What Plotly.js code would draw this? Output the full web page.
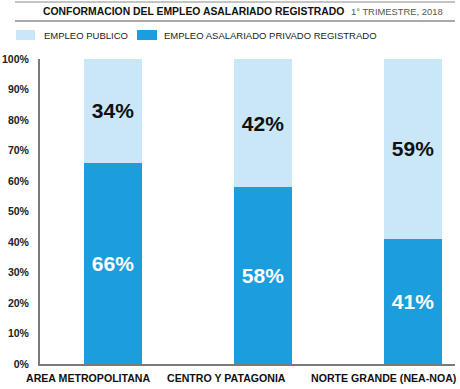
<!DOCTYPE html>
<html><head><meta charset="utf-8">
<script src="https://cdn.plot.ly/plotly-3.0.1.min.js"></script>
<style>html,body{margin:0;padding:0;background:#fff}#chart{width:460px;height:389px}</style>
</head><body><div id="chart"></div>
<script>
const categories = ["AREA METROPOLITANA", "CENTRO Y PATAGONIA", "NORTE GRANDE (NEA-NOA)"];
const privado = [66, 58, 41];
const publico = [34, 42, 59];
const seriesNames = ["EMPLEO ASALARIADO PRIVADO REGISTRADO", "EMPLEO PUBLICO"];
const tickVals = [0,10,20,30,40,50,60,70,80,90,100];
const tickText = tickVals.map(v => v + "%");
const labelShift = [-25, -37, -30];

const W = 460, H = 389, L = 40, R = 5, T = 59, B = 25;
const pw = W - L - R, ph = H - T - B;
const px = x => (x - L) / pw;
const py = y => (H - B - y) / ph;

const darkBlue = "#1c9ddd", lightBlue = "#c9e7f6";
const narrow = "Liberation Sans Narrow, Arial Narrow, Liberation Sans, sans-serif";
const sans = "Liberation Sans, Arial, sans-serif";

const traces = [
  {type:"bar", name:seriesNames[0], x:categories, y:privado, width:0.387,
   marker:{color:darkBlue}, text:privado.map(v=>v+"%"), textposition:"inside",
   insidetextanchor:"middle", textangle:0,
   textfont:{family:narrow, size:21, color:"#ffffff", weight:"bold"}, hoverinfo:"skip"},
  {type:"bar", name:seriesNames[1], x:categories, y:publico, width:0.387,
   marker:{color:lightBlue}, text:publico.map(v=>v+"%"), textposition:"inside",
   insidetextanchor:"middle", textangle:0,
   textfont:{family:narrow, size:21, color:"#111111", weight:"bold"}, hoverinfo:"skip"}
];

const catAnn = categories.map((c, i) => ({
  xref:"x", yref:"paper", x:c, y:py(378), xshift:labelShift[i], xanchor:"center", yanchor:"middle",
  showarrow:false, text:"<b>" + c + "</b>", font:{family:sans, size:10.6, color:"#111"}
}));

const layout = {
  width:W, height:H, margin:{l:L, r:R, t:T, b:B},
  barmode:"stack", showlegend:false,
  paper_bgcolor:"#fff", plot_bgcolor:"#fff",
  xaxis:{type:"category", range:[-0.487, 2.28], showgrid:false, zeroline:false,
    showline:true, linecolor:"#7a7a7a", linewidth:2, ticks:"", showticklabels:false},
  yaxis:{range:[0,100], tickvals:tickVals, ticktext:tickText, showgrid:false, zeroline:false,
    showline:true, linecolor:"#7a7a7a", linewidth:2, ticks:"outside", ticklen:7,
    tickcolor:"rgba(0,0,0,0)", tickfont:{family:narrow, size:10.5, color:"#222", weight:"bold"}},
  shapes:[
    {type:"line", xref:"paper", yref:"paper", x0:px(15), x1:px(455), y0:py(2), y1:py(2), line:{color:"#b0b0b0", width:1.5}},
    {type:"line", xref:"paper", yref:"paper", x0:px(15), x1:px(455), y0:py(21), y1:py(21), line:{color:"#555", width:1.2}},
    {type:"rect", xref:"paper", yref:"paper", x0:px(16), x1:px(35), y0:py(30), y1:py(40), fillcolor:lightBlue, line:{width:0}},
    {type:"rect", xref:"paper", yref:"paper", x0:px(137), x1:px(157), y0:py(30), y1:py(40), fillcolor:darkBlue, line:{width:0}}
  ],
  annotations:[
    {xref:"paper", yref:"paper", x:px(346), y:py(12), xanchor:"right", yanchor:"middle", showarrow:false,
     text:"<b>CONFORMACION DEL EMPLEO ASALARIADO REGISTRADO</b>", font:{family:sans, size:10.4, color:"#111"}},
    {xref:"paper", yref:"paper", x:px(349), y:py(12), xanchor:"left", yanchor:"middle", showarrow:false,
     text:"1° TRIMESTRE, 2018", font:{family:narrow, size:9.4, color:"#555"}},
    {xref:"paper", yref:"paper", x:px(42), y:py(35), xanchor:"left", yanchor:"middle", showarrow:false,
     text:seriesNames[1], font:{family:narrow, size:9.5, color:"#222"}},
    {xref:"paper", yref:"paper", x:px(162), y:py(35), xanchor:"left", yanchor:"middle", showarrow:false,
     text:seriesNames[0], font:{family:narrow, size:9.5, color:"#222"}}
  ].concat(catAnn)
};
Plotly.newPlot("chart", traces, layout, {staticPlot:true, displayModeBar:false});
</script></body></html>
